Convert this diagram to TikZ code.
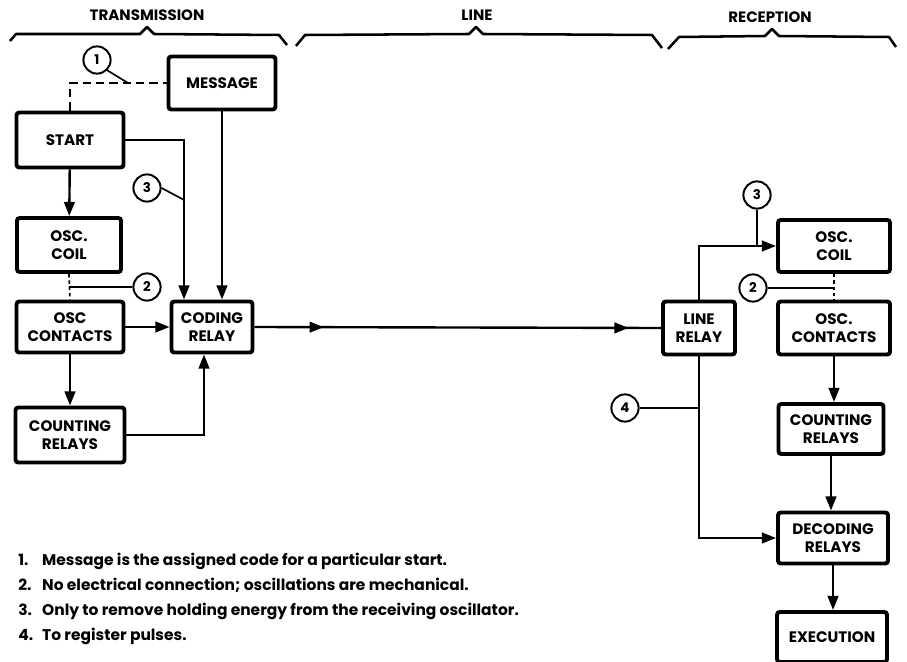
\documentclass[tikz,border=0pt]{standalone}
\usepackage{fontspec}
\setmainfont{Poppins}
\usetikzlibrary{arrows.meta,decorations.markings}

\begin{document}
\begin{tikzpicture}[x=0.025cm, y=-0.025cm,
    box/.style={draw, line width=2.8pt, rounded corners=2pt, align=center, inner sep=1pt,
                font=\bfseries\fontsize{10.8}{12.6}\selectfont},
    num/.style={draw, circle, line width=1.4pt, minimum size=0.68cm, inner sep=0pt,
                font=\bfseries\fontsize{9.5}{10}\selectfont},
    head/.style={font=\bfseries\fontsize{10.7}{12}\selectfont},
    note/.style={anchor=base west, inner sep=0pt, font=\bfseries\fontsize{11}{12}\selectfont},
    wire/.style={line width=1.7pt},
    lead/.style={line width=1.2pt},
    dsh/.style={wire, dash pattern=on 6pt off 3.5pt},
    dot/.style={line width=1.2pt, dash pattern=on 2.5pt off 2pt},
    arr/.style={wire, -{Triangle[length=10pt,width=7.5pt]}},
    brace/.style={line width=1.8pt, line join=round},
    line/.style={wire, postaction={decorate}, decoration={markings,
        mark=at position 0.17 with {\arrow{Triangle[length=10pt,width=7.5pt]}},
        mark=at position 0.92 with {\arrow{Triangle[length=10pt,width=7.5pt]}}}}
]
\useasboundingbox (0,0) rectangle (907,662);

% braces and headings
\draw[brace] (10,41) -- (16,34) -- (140,34) -- (147,27) -- (154,34) -- (279,35) -- (287,45);
\draw[brace] (296,46) -- (305,35) -- (469,34) -- (476,27) -- (483,34) -- (652,35) -- (662,48);
\draw[brace] (668,49) -- (679,37) -- (765,36) -- (772,29) -- (779,36) -- (889,37) -- (896,47);
\node[head] (transm) at (147,15) {TRANSMISSION};
\node[head] (line) at (477,15) {LINE};
\node[head] (recep) at (770,17) {RECEPTION};

% transmission
\node[box, minimum width=2.675cm, minimum height=1.325cm] (message) at (222,83) {MESSAGE};
\node[box, minimum width=2.675cm, minimum height=1.375cm] (start) at (70,140) {START};
\node[box, minimum width=2.6cm, minimum height=1.35cm] (osccoil) at (69,245) {OSC.\\COIL};
\node[box, minimum width=2.675cm, minimum height=1.275cm] (osccont) at (70,327) {OSC\\CONTACTS};
\node[box, minimum width=2.725cm, minimum height=1.375cm] (counting) at (70,435) {COUNTING\\RELAYS};
\node[box, minimum width=2.025cm, minimum height=1.275cm] (coding) at (212,327) {CODING\\RELAY};

\node[num] (n1) at (97,60) {1};
\node[num] (n3) at (147,188) {3};
\node[num] (n2) at (147,287) {2};
\coordinate (d1) at (128,83);
\coordinate (d3) at (184,200);

\draw[dsh] (start.north) |- (message.west);
\draw[lead] (n1.south east) -- (d1);
\draw[arr] (start.east) -| ([xshift=-0.7cm]coding.north);
\draw[lead] (n3.east) -- (d3);
\draw[arr] (message.south) -- (message.south |- coding.north);
\draw[arr] (start) -- (osccoil);
\draw[dot] (osccoil.south) -- (osccont.north);
\draw[lead] (n2.west) -- (n2.west -| osccoil.south);
\draw[arr] (osccont) -- (coding);
\draw[arr] (osccont) -- (counting);
\draw[arr] (counting.east) -| ([xshift=-0.2cm]coding.south);

% line
\node[box, minimum width=1.8cm, minimum height=1.325cm] (linerelay) at (699,328) {LINE\\RELAY};
\draw[line] (coding.east) -- (linerelay.west);

% reception
\node[box, minimum width=2.8cm, minimum height=1.3cm] (rcoil) at (834,246) {OSC.\\COIL};
\node[box, minimum width=2.8cm, minimum height=1.325cm] (rcont) at (834,328) {OSC.\\CONTACTS};
\node[box, minimum width=2.625cm, minimum height=1.25cm] (rcount) at (831,429) {COUNTING\\RELAYS};
\node[box, minimum width=2.75cm, minimum height=1.275cm] (decoding) at (833,538) {DECODING\\RELAYS};
\node[box, minimum width=2.75cm, minimum height=1.25cm] (execution) at (832,637) {EXECUTION};

\node[num] (m3) at (757,195) {3};
\node[num] (m2) at (753,288) {2};
\node[num] (m4) at (625,408) {4};

\draw[arr] (linerelay.north) |- (rcoil.west);
\draw[lead] (m3.south) -- (m3.south |- rcoil.west);
\draw[dot] (rcoil.south) -- (rcont.north);
\draw[lead] (m2.east) -- (m2.east -| rcoil.south);
\draw[arr] (rcont) -- (rcont |- rcount.north);
\draw[arr] (rcount) -- (rcount |- decoding.north);
\draw[arr] (decoding) -- (decoding |- execution.north);
\draw[arr] (linerelay.south) |- (decoding.west);
\draw[lead] (m4.east) -- (m4.east -| linerelay.south);

% notes
\node[note] (note1) at (18,565) {\makebox[17pt][l]{1.}Message is the assigned code for a particular start.};
\node[note] (note2) at (18,590) {\makebox[17pt][l]{2.}No electrical connection; oscillations are mechanical.};
\node[note] (note3) at (18,615) {\makebox[17pt][l]{3.}Only to remove holding energy from the receiving oscillator.};
\node[note] (note4) at (18,640) {\makebox[17pt][l]{4.}To register pulses.};
\end{tikzpicture}
\end{document}
